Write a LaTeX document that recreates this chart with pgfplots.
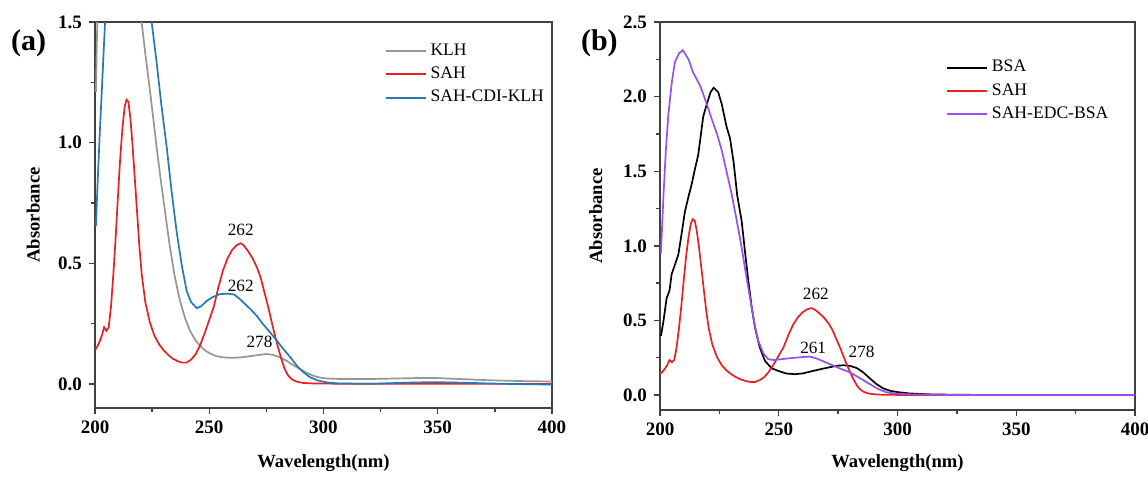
\documentclass[border=0pt]{standalone}
\usepackage{fontspec}
\setmainfont{Liberation Serif}
\usepackage{pgfplots}
\usepackage{pgfplotstable}
\pgfplotsset{compat=1.18}

\definecolor{klh}{RGB}{150,150,150}
\definecolor{sah}{RGB}{232,32,38}
\definecolor{cdi}{RGB}{40,120,180}
\definecolor{edc}{RGB}{150,80,240}

% SAH spectrum (same in both panels)
\pgfplotstableread{
x y
200 0.14
201 0.155
202 0.175
203 0.2
204 0.235
205 0.22
206 0.235
207 0.32
208 0.45
209 0.6
210 0.77
211 0.93
212 1.06
213 1.15
213.8 1.178
214.6 1.17
215.5 1.10
216.5 0.98
217.5 0.84
218.5 0.70
219.5 0.56
220.5 0.45
222 0.34
224 0.255
226 0.2
228 0.165
230 0.14
232 0.12
234 0.105
236 0.095
238 0.088
240 0.088
242 0.1
244 0.122
246 0.16
248 0.21
250 0.265
252 0.32
254 0.4
256 0.47
258 0.52
260 0.555
262 0.575
263.8 0.583
265 0.575
267 0.55
269 0.52
271 0.48
272.5 0.44
274 0.385
275.5 0.33
277 0.27
278.5 0.21
280 0.155
281.5 0.105
283 0.062
284.5 0.035
286 0.02
288 0.01
291 0.004
295 0.002
300 0.001
350 0.0
400 0.0
}\sah

\pgfplotstableread{
x y
200.4 1.21
201.2 1.6
203 2.0
210 2.3
216 2.1
220.4 1.5
222 1.37
224 1.22
226 1.06
227 0.978
229 0.83
231 0.69
232.8 0.566
235 0.44
237.2 0.344
239.5 0.27
241.6 0.22
244 0.18
246 0.158
248 0.14
250 0.128
253 0.115
256 0.11
260 0.108
264 0.11
268 0.115
272 0.12
275 0.124
278 0.12
281 0.11
284 0.095
286 0.082
288.3 0.069
291 0.055
293 0.044
295.5 0.034
298 0.027
301 0.023
304 0.021
310 0.02
320 0.02
330 0.022
340 0.024
350 0.024
360 0.02
370 0.016
380 0.013
390 0.011
400 0.01
}\klh

\pgfplotstableread{
x y
200.4 0.654
201 0.8
202 1.02
203 1.22
204.4 1.5
206 1.8
210 2.1
216 2.05
221 1.75
224.8 1.5
227 1.33
229 1.16
231.4 0.98
233.5 0.8
235.7 0.633
238 0.49
240.1 0.386
242 0.34
244.5 0.314
246.5 0.322
248.9 0.344
251.5 0.36
254.7 0.372
258 0.374
261 0.37
263 0.355
264.9 0.338
268 0.31
270.8 0.282
273.5 0.248
276.6 0.214
279.5 0.18
282.4 0.145
285.5 0.11
288.3 0.076
291 0.05
294 0.028
297.5 0.014
301.4 0.006
306 0.002
320 0.0
340 0.006
350 0.007
360 0.005
380 0.0
400 -0.003
}\cdi

\pgfplotstableread{
x y
200.4 0.396
201.5 0.5
202.8 0.65
204 0.7
204.9 0.81
206 0.86
207.7 0.94
209 1.07
210.5 1.23
212 1.33
213.3 1.41
214.5 1.5
216.1 1.61
218.2 1.866
219.7 1.95
221.3 2.03
222.6 2.06
224.5 2.03
226 1.95
228 1.8
229.5 1.72
231 1.56
232.5 1.34
234.4 1.164
235.8 0.96
237.2 0.764
238.6 0.59
240 0.452
242 0.32
244.2 0.229
247 0.18
249.8 0.162
253 0.145
256.8 0.14
260 0.145
264.5 0.162
268 0.175
271 0.185
274.4 0.196
277 0.2
280 0.196
283 0.18
285.6 0.152
288.5 0.11
291.2 0.073
294 0.045
296.8 0.029
300 0.02
305 0.011
313 0.005
325 0.002
350 0.0
400 0.0
}\bsa

\pgfplotstableread{
x y
200.4 0.953
201.5 1.35
202.5 1.65
203.5 1.877
205 2.1
206.3 2.233
208 2.29
209.6 2.311
212 2.25
214 2.16
217 2.07
219.7 1.95
222 1.84
224 1.75
226 1.64
228 1.5
230.2 1.343
232.3 1.17
234.4 0.987
236.5 0.78
238.6 0.586
240 0.46
241.4 0.363
243.5 0.28
245.6 0.24
248 0.235
251 0.24
254.7 0.247
258 0.252
261 0.256
263.2 0.258
266 0.245
268.5 0.228
271.6 0.207
275.5 0.18
280 0.152
284 0.115
288.4 0.073
292 0.04
295.5 0.018
300 0.009
305 0.005
320 0.001
350 0.0
400 0.0
}\edc

\pgfplotsset{
  spec/.style={
    scale only axis,
    anchor=south west,
    xmin=200, xmax=400,
    xtick={200,250,300,350,400},
    minor x tick num=1,
    minor y tick num=1,
    tick align=outside,
    xtick pos=bottom, ytick pos=left,
    major tick length=3pt, minor tick length=1.8pt,
    axis line style={black!75, line width=0.9pt},
    tick style={black!75, line width=0.7pt},
    /pgf/number format/assume math mode=true,
    ticklabel style={font=\bfseries\fontsize{9.5}{10}\selectfont},
    yticklabel style={/pgf/number format/.cd, fixed, fixed zerofill, precision=1},
    xlabel={Wavelength(nm)},
    ylabel={Absorbance},
    label style={font=\bfseries\fontsize{9.3}{10}\selectfont},
    ylabel style={at={(axis description cs:-0.135,0.5)}, anchor=center},
    legend style={draw=none, fill=none, anchor=north west,
      font=\fontsize{8.8}{10}\selectfont, row sep=0.3pt},
    legend cell align=left,
    legend image code/.code={\draw[#1, line width=0.9pt] (0pt,0pt) -- (20pt,0pt);},
  },
  curve/.style={line width=0.85pt, color=#1},
}

\begin{document}
\begin{tikzpicture}
\path[use as bounding box] (0,0) rectangle (574pt,238.5pt);

\node[anchor=west, font=\bfseries\fontsize{15}{16}\selectfont] at (2pt,217pt) {(a)};
\node[anchor=west, font=\bfseries\fontsize{15}{16}\selectfont] at (287pt,217pt) {(b)};

\begin{axis}[spec,
  at={(47.5pt,34.5pt)}, width=228.5pt, height=193pt,
  ymin=-0.1, ymax=1.5,
  ytick={0,0.5,1.0,1.5},
  xlabel style={at={(axis description cs:0.5,-0.142)}, anchor=center},
  legend style={at={(0.62,0.965)}},
]
\addplot[curve=klh] table[x=x,y=y] {\klh};
\addlegendentry{KLH}
\addplot[curve=sah] table[x=x,y=y] {\sah};
\addlegendentry{SAH}
\addplot[curve=cdi] table[x=x,y=y] {\cdi};
\addlegendentry{SAH-CDI-KLH}
\node[font=\fontsize{8.6}{10}\selectfont] at (axis cs:263.8,0.638) {262};
\node[font=\fontsize{8.6}{10}\selectfont] at (axis cs:263.8,0.406) {262};
\node[font=\fontsize{8.6}{10}\selectfont] at (axis cs:272,0.176) {278};
\end{axis}

\begin{axis}[spec,
  at={(330pt,33.5pt)}, width=237.5pt, height=194pt,
  ymin=-0.1, ymax=2.5,
  ytick={0,0.5,1.0,1.5,2.0,2.5},
  xlabel style={at={(axis description cs:0.5,-0.137)}, anchor=center},
  legend style={at={(0.589,0.923)}},
]
\addplot[curve=black] table[x=x,y=y] {\bsa};
\addlegendentry{BSA}
\addplot[curve=sah] table[x=x,y=y] {\sah};
\addlegendentry{SAH}
\addplot[curve=edc] table[x=x,y=y] {\edc};
\addlegendentry{SAH-EDC-BSA}
\node[font=\fontsize{8.6}{10}\selectfont] at (axis cs:265.6,0.675) {262};
\node[font=\fontsize{8.6}{10}\selectfont] at (axis cs:264.5,0.314) {261};
\node[font=\fontsize{8.6}{10}\selectfont] at (axis cs:284.9,0.289) {278};
\end{axis}
\end{tikzpicture}
\end{document}
